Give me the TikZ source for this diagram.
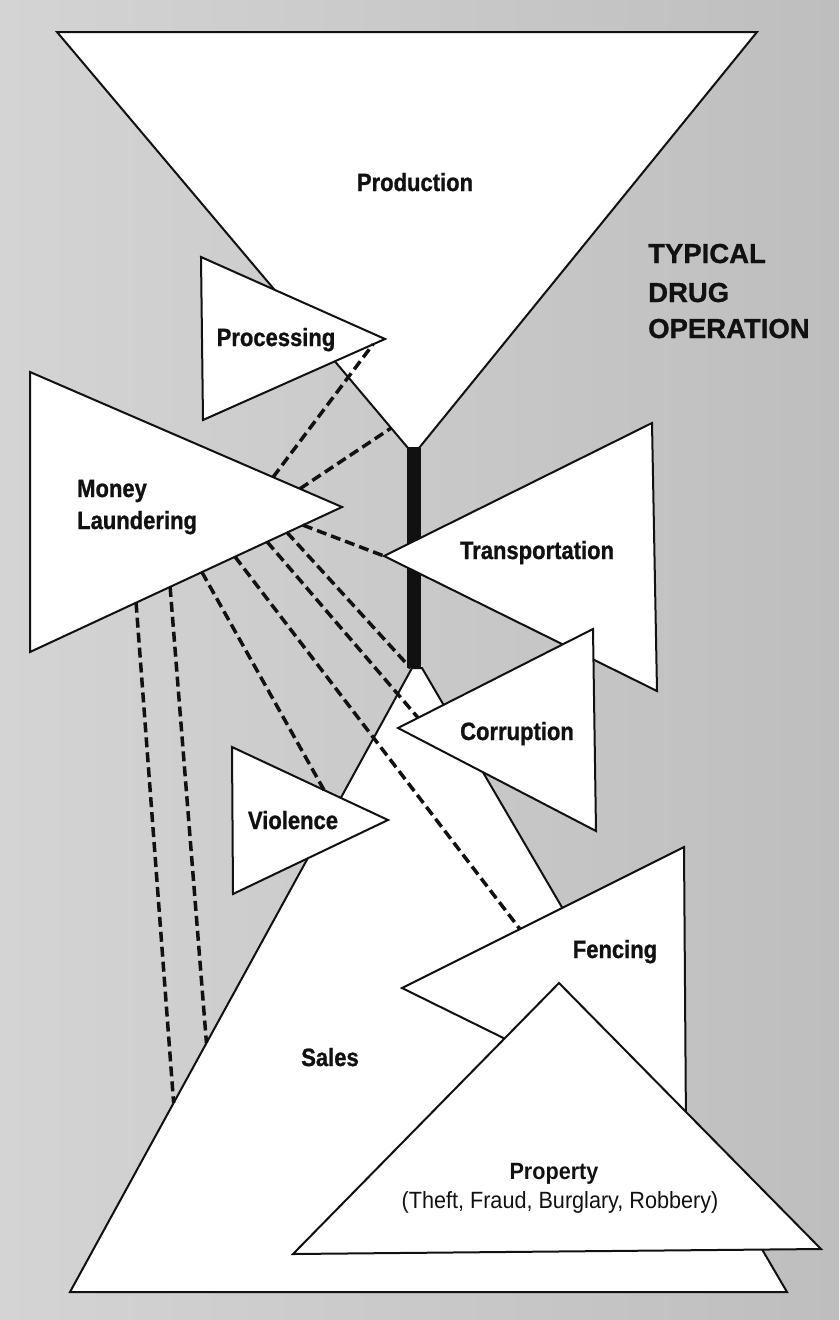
\documentclass[tikz,border=0pt]{standalone}
\usepackage{fontspec}
\setmainfont{Liberation Sans}
\newfontfamily\lblfont[FakeStretch=0.88, FakeBold=1]{Liberation Sans Bold}
\newfontfamily\subfont[FakeStretch=0.92]{Liberation Sans}
\newfontfamily\ttlfont[FakeBold=1]{Liberation Sans Bold}
\usetikzlibrary{calc}
\definecolor{bgl}{HTML}{D4D4D4}
\definecolor{bgr}{HTML}{BEBEBE}
\definecolor{ink}{HTML}{111111}
\begin{document}
\begin{tikzpicture}[x=1pt,y=-1pt,
  tri/.style={draw=ink, fill=white, line width=2pt, line join=miter},
  link/.style={draw=ink, line width=3.5pt, dash pattern=on 10pt off 5pt},
  lbl/.style={font=\lblfont\fontsize{25}{25}\selectfont, anchor=base, inner sep=0pt, text=ink},
  ttl/.style={font=\ttlfont\fontsize{27.5}{27.5}\selectfont, anchor=base west, inner sep=0pt, text=ink},
  prop/.style={font=\subfont\fontsize{23.5}{23.5}\selectfont, anchor=base, inner sep=0pt, text=ink}]
\useasboundingbox (0,0) rectangle (839,1320);
\shade[left color=bgl, right color=bgr] (0,0) rectangle (839,1320);

% coordinates
\coordinate (prTL) at (57,32);   \coordinate (prTR) at (757,32);
\coordinate (prBR) at (419,448); \coordinate (prBL) at (408,448);
\coordinate (barTL) at (407,448); \coordinate (barBR) at (421,668);
\coordinate (barBL) at (407,668);
\coordinate (saTL) at (412,668); \coordinate (saTR) at (422,668);
\coordinate (saBR) at (787,1292); \coordinate (saBL) at (70,1292);
\coordinate (pcTL) at (201,257); \coordinate (pcBL) at (203,420); \coordinate (pcA) at (385,339);
\coordinate (mlTL) at (30,372);  \coordinate (mlBL) at (30,652);  \coordinate (mlA) at (342,507);
\coordinate (trA) at (384,556);  \coordinate (trTR) at (652,423); \coordinate (trBR) at (657,691);
\coordinate (coA) at (398,728);  \coordinate (coTR) at (593,629); \coordinate (coBR) at (596,831);
\coordinate (viTL) at (232,747); \coordinate (viBL) at (233,894); \coordinate (viA) at (388,820);
\coordinate (feA) at (402,988);  \coordinate (feTR) at (684,847); \coordinate (feBR) at (686,1128);
\coordinate (poA) at (559,983);  \coordinate (poBL) at (293,1254); \coordinate (poBR) at (821,1249);

% shapes
\draw[tri] (prTL) -- (prTR) -- (prBR) -- (prBL) -- cycle;
\draw[tri] (saTL) -- (saTR) -- (saBR) -- (saBL) -- cycle;
\fill[ink] (barTL) rectangle (barBR);
\draw[tri] (pcTL) -- (pcA) -- (pcBL) -- cycle;
\draw[tri] (mlTL) -- (mlA) -- (mlBL) -- cycle;
\draw[tri] (trA) -- (trTR) -- (trBR) -- cycle;
\draw[tri] (coA) -- (coTR) -- (coBR) -- cycle;
\draw[tri] (viTL) -- (viA) -- (viBL) -- cycle;
\draw[tri] (feA) -- (feTR) -- (feBR) -- cycle;
\draw[tri] (poA) -- (poBR) -- (poBL) -- cycle;

% dashed links from Money Laundering
\coordinate (d1s) at ($(mlTL)!0.779!(mlA)$); \coordinate (d1e) at ($(pcBL)!0.934!(pcA)$);
\coordinate (d2s) at ($(mlTL)!0.865!(mlA)$); \coordinate (d2e) at ($(prTL)!0.952!(prBL)$);
\coordinate (d3s) at ($(mlA)!0.125!(mlBL)$);
\coordinate (d4s) at ($(mlA)!0.176!(mlBL)$); \coordinate (d4e) at ($(barBL)!0.25!(barBR |- barBL)$);
\coordinate (d5s) at ($(mlA)!0.240!(mlBL)$); \coordinate (d5e) at ($(coA)!0.103!(coTR)$);
\coordinate (d6s) at ($(mlA)!0.343!(mlBL)$); \coordinate (d6e) at ($(feA)!0.418!(feTR)$);
\coordinate (d7s) at ($(mlA)!0.449!(mlBL)$); \coordinate (d7e) at ($(viTL)!0.59!(viA)$);
\coordinate (d8s) at ($(mlA)!0.551!(mlBL)$); \coordinate (d8e) at ($(saTL)!0.601!(saBL)$);
\coordinate (d9s) at ($(mlA)!0.660!(mlBL)$); \coordinate (d9e) at ($(saTL)!0.697!(saBL)$);
\draw[link] (d1s) -- (d1e);
\draw[link] (d2s) -- (d2e);
\draw[link] (d3s) -- (trA);
\draw[link] (d4s) -- (d4e);
\draw[link] (d5s) -- (d5e);
\draw[link] (d6s) -- (d6e);
\draw[link] (d7s) -- (d7e);
\draw[link] (d8s) -- (d8e);
\draw[link] (d9s) -- (d9e);

% labels
\node[lbl] (tProd) at (415,191) {Production};
\node[lbl] (tProc) at (276,346) {Processing};
\node[lbl, anchor=base west] (tMon) at (77,497) {Money};
\node[lbl, anchor=base west] (tLau) at (77,529) {Laundering};
\node[lbl] (tTra) at (537,559) {Transportation};
\node[lbl] (tCor) at (517,740) {Corruption};
\node[lbl] (tVio) at (293,829) {Violence};
\node[lbl] (tSal) at (330,1066) {Sales};
\node[lbl] (tFen) at (615,958) {Fencing};
\node[prop, font=\subfont\bfseries\fontsize{23.5}{23.5}\selectfont] (tPro) at (554,1179) {Property};
\node[prop] (tSub) at (560,1208) {(Theft, Fraud, Burglary, Robbery)};
\node[ttl] (tT1) at (648,263) {TYPICAL};
\node[ttl] (tT2) at (648,302) {DRUG};
\node[ttl] (tT3) at (648,338) {OPERATION};
\end{tikzpicture}
\end{document}
